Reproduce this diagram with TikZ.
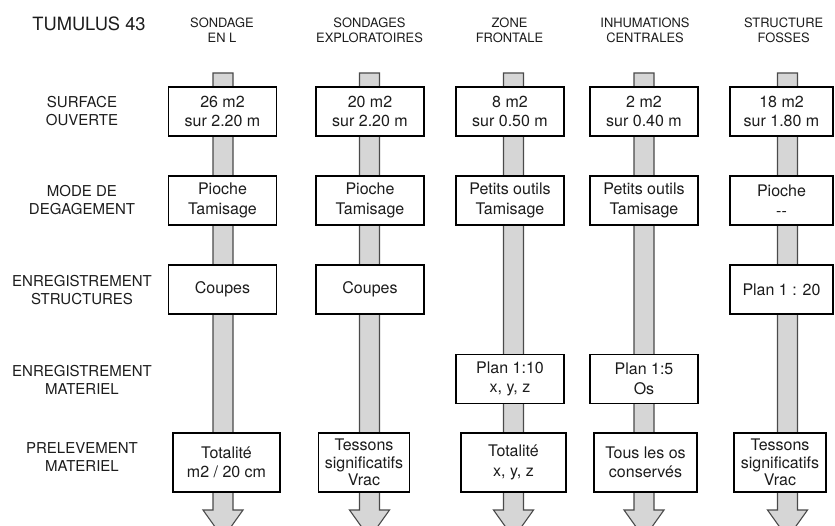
\documentclass[tikz,border=0pt]{standalone}
\usepackage{fontspec}
\setmainfont{TeX Gyre Heros}
\usetikzlibrary{calc}
\definecolor{shaftgray}{HTML}{D6D6D6}
\definecolor{shaftline}{HTML}{4A4A4A}
\definecolor{ink}{HTML}{1C1C1C}
\begin{document}
\begin{tikzpicture}[x=1pt,y=-1pt,
  stepbox/.style={draw=black, line width=1.7pt, fill=white, inner sep=0pt,
    align=center, text=ink, font=\fontsize{16}{19.5}\selectfont,
    minimum width=108pt, minimum height=49pt},
  lastbox/.style={stepbox, minimum height=59.5pt},
  tripleline/.style={font=\fontsize{16}{17.5}\selectfont},
  edgebox/.style={stepbox, minimum width=103.5pt},
  colhead/.style={align=center, text=ink, inner sep=0pt,
    font=\fontsize{12.9}{15}\selectfont},
  rowlabel/.style={align=center, text=ink, inner sep=0pt,
    font=\fontsize{15}{18}\selectfont},
  shaft/.style={fill=shaftgray, draw=shaftline, line width=1.1pt, line join=miter}
]
\useasboundingbox (0,0) rectangle (835,526);
\clip (0,0) rectangle (835,526);

% title, column heads and row labels
\node[text=ink, inner sep=0pt, font=\fontsize{18.3}{22}\selectfont] (title) at (89,23.4) {TUMULUS 43};
\node[colhead] (h1) at (222,30) {SONDAGE\\EN L};
\node[colhead] (h2) at (369.5,30) {SONDAGES\\EXPLORATOIRES};
\node[colhead] (h3) at (509.5,30) {ZONE\\FRONTALE};
\node[colhead] (h4) at (645,30) {INHUMATIONS\\CENTRALES};
\node[colhead] (h5) at (783.7,30) {STRUCTURE\\FOSSES};

\node[rowlabel] (l1) at (82,111.5) {SURFACE\\OUVERTE};
\node[rowlabel] (l2) at (82,200.5) {MODE DE\\DEGAGEMENT};
\node[rowlabel] (l3) at (82,290) {ENREGISTREMENT\\STRUCTURES};
\node[rowlabel] (l4) at (82,379.5) {ENREGISTREMENT\\MATERIEL};
\node[rowlabel] (l5) at (82,457) {PRELEVEMENT\\MATERIEL};

% shaft ends: top of each column and tip of its arrow head
\foreach \n/\x in {1/223, 2/369.5, 3/513.5, 4/644, 5/787.5} {
  \coordinate (s\n) at (\x,73);
  \coordinate (t\n) at (\x,538);
}

% grey flow arrows running down each column
\foreach \n in {1,...,5} {
  \draw[shaft] ($(s\n)+(-10,0)$) -- ($(s\n)+(10,0)$) -- ($(t\n)+(10,-28)$)
    -- ($(t\n)+(20,-28)$) -- (t\n) -- ($(t\n)+(-20,-28)$)
    -- ($(t\n)+(-10,-28)$) -- cycle;
}

% row 1: surface
\node[stepbox] (b11) at (222.5,111.5) {26 m2\\sur 2.20 m};
\node[stepbox] (b12) at (370,111.5) {20 m2\\sur 2.20 m};
\node[stepbox] (b13) at (510,111.5) {8 m2\\sur 0.50 m};
\node[stepbox] (b14) at (644,111.5) {2 m2\\sur 0.40 m};
\node[edgebox] (b15) at (781.5,111.5) {18 m2\\sur 1.80 m};

% row 2: tools
\node[stepbox] (b21) at (222.5,200.5) {Pioche\\Tamisage};
\node[stepbox] (b22) at (370,200.5) {Pioche\\Tamisage};
\node[stepbox] (b23) at (510,200.5) {Petits outils\\Tamisage};
\node[stepbox] (b24) at (644,200.5) {Petits outils\\Tamisage};
\node[edgebox] (b25) at (781.5,200.5) {Pioche\\-{}-};

% row 3: structures
\node[stepbox] (b31) at (222.5,289.5) {Coupes};
\node[stepbox] (b32) at (370,289.5) {Coupes};
\node[edgebox] (b35) at (781.5,289.5) {Plan 1 : 20};

% row 4: finds recording
\node[stepbox] (b43) at (510,379) {Plan 1:10\\x, y, z};
\node[stepbox] (b44) at (644,379) {Plan 1:5\\Os};

% row 5: sampling
\node[lastbox, minimum width=107.5pt] (b51) at (226.5,462.5) {Totalité\\m2 / 20 cm};
\node[lastbox, tripleline, minimum width=91pt] (b52) at (364,462.5) {Tessons\\significatifs\\Vrac};
\node[lastbox, minimum width=105.5pt] (b53) at (513.5,462.5) {Totalité\\x, y, z};
\node[lastbox, minimum width=103.5pt] (b54) at (645.5,462.5) {Tous les os\\conservés};
\node[lastbox, tripleline, minimum width=92.5pt] (b55) at (780,462.5) {Tessons\\significatifs\\Vrac};
\end{tikzpicture}
\end{document}
